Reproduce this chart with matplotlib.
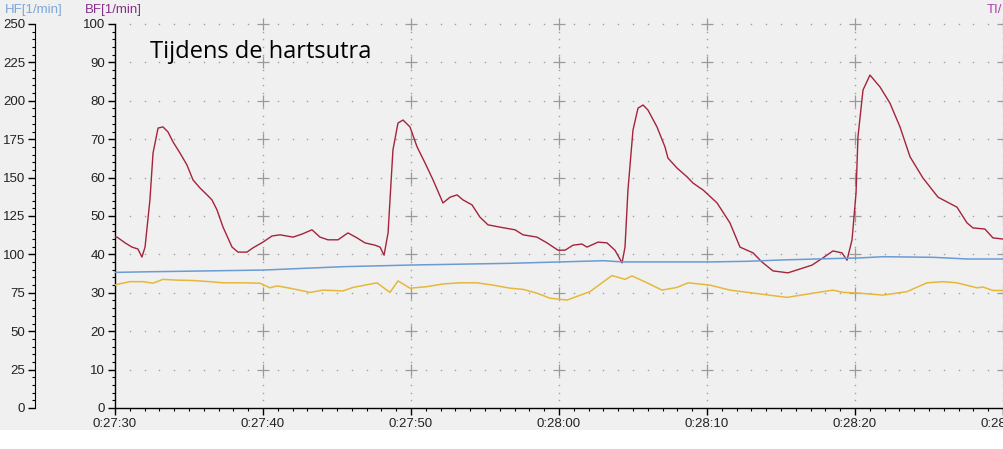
import matplotlib
matplotlib.use("Agg")
import matplotlib.pyplot as plt
from matplotlib.ticker import MultipleLocator, FuncFormatter
from matplotlib.patches import Rectangle
import numpy as np

# ---- data (seconds after 0:27:30) ----
red_t = [0, 0.14, 0.68, 1.15, 1.55, 1.82, 2.03, 2.36, 2.57, 2.91, 3.24, 3.58, 3.92, 4.39, 4.86,
         5.27, 5.74, 6.22, 6.55, 6.89, 7.30, 7.91, 8.31, 8.92, 9.32, 10.0, 10.61, 11.15, 12.03,
         12.64, 13.31, 13.85, 14.39, 15.07, 15.74, 16.35, 16.89, 17.57, 17.91, 18.18, 18.45,
         18.78, 19.12, 19.46, 19.80, 19.93, 20.41, 20.95, 21.49, 22.16, 22.64, 23.11, 23.51,
         24.12, 24.66, 25.20, 26.01, 27.03, 27.57, 28.51, 29.19, 29.93, 30.41, 30.95, 31.55,
         31.89, 32.64, 33.24, 33.78, 34.26, 34.46, 34.66, 35.0, 35.34, 35.68, 36.01, 36.62,
         37.16, 37.36, 37.97, 38.65, 39.05, 39.53, 39.73, 40.68, 41.55, 42.23, 43.11, 43.72,
         44.46, 45.47, 46.28, 47.09, 47.84, 48.51, 49.12, 49.46, 49.80, 50.07, 50.20, 50.54,
         51.01, 51.69, 52.36, 53.04, 53.72, 54.59, 55.61, 56.89, 57.57, 57.97, 58.78, 59.32, 60.0]
red_v = [44.5, 44.5, 43.0, 41.9, 41.4, 39.3, 41.9, 54.2, 66.4, 72.9, 73.2, 71.9, 69.3, 66.4, 63.3,
         59.4, 57.3, 55.5, 54.2, 51.6, 47.1, 41.9, 40.6, 40.6, 41.7, 43.2, 44.8, 45.1, 44.5,
         45.3, 46.4, 44.5, 43.8, 43.8, 45.6, 44.3, 43.0, 42.4, 41.9, 39.8, 45.6,
         67.2, 74.2, 75.0, 73.7, 73.2, 68.0, 63.8, 59.4, 53.4, 54.9, 55.5, 54.2,
         52.9, 49.7, 47.7, 47.1, 46.4, 45.1, 44.5, 43.0, 41.1, 41.1, 42.4, 42.7,
         41.9, 43.2, 43.0, 41.1, 37.8, 41.9, 56.8, 72.4, 78.1, 78.9, 77.6, 73.2,
         68.0, 65.1, 62.5, 60.2, 58.6, 57.3, 56.8, 53.4, 48.2, 41.9, 40.4, 38.0,
         35.7, 35.2, 36.2, 37.2, 39.1, 40.9, 40.4, 38.5, 43.8, 56.0, 70.6, 82.8,
         86.7, 83.6, 79.4, 73.2, 65.4, 59.9, 54.9, 52.3, 48.2, 46.9, 46.6, 44.3, 44.0]

blue_t = [0, 2.36, 10.0, 15.4, 20.1, 26.7, 30.1, 33.0, 34.3, 40.2, 42.7, 45.1, 48.1, 50.3,
          51.9, 55.3, 57.6, 60.0]
blue_hf = [88.3, 88.7, 89.8, 92.0, 93.1, 94.2, 95.1, 95.9, 95.1, 95.1, 95.5, 96.4, 97.2, 97.7,
           98.5, 98.1, 97.0, 97.0]

yel_t = [0, 0.14, 1.01, 1.89, 2.57, 3.24, 4.19, 5.27, 6.42, 7.30, 8.65, 9.80, 10.47, 10.95,
         11.82, 13.18, 14.05, 15.41, 16.08, 17.70, 18.58, 19.12, 19.93, 21.08, 22.16, 23.31,
         24.46, 25.54, 26.69, 27.57, 28.51, 29.39, 30.54, 32.09, 33.58, 34.46, 34.93, 35.95,
         36.96, 37.97, 38.72, 40.20, 41.55, 43.78, 45.41, 47.16, 48.51, 49.19, 50.34, 51.89,
         53.51, 54.86, 55.95, 56.89, 58.24, 58.65, 59.32, 60.0]
yel_v = [32.0, 32.2, 32.9, 32.9, 32.5, 33.5, 33.3, 33.2, 32.9, 32.6, 32.6, 32.5, 31.3, 31.8,
         31.2, 30.1, 30.7, 30.5, 31.4, 32.6, 30.1, 33.1, 31.2, 31.6, 32.3, 32.6,
         32.6, 32.0, 31.2, 30.9, 29.9, 28.6, 28.1, 30.3, 34.5, 33.5, 34.4, 32.6,
         30.7, 31.4, 32.6, 32.0, 30.7, 29.6, 28.8, 29.9, 30.7, 30.1, 29.9, 29.4,
         30.3, 32.6, 32.9, 32.6, 31.3, 31.5, 30.6, 30.6]

start_sec = 27 * 60 + 30
title_text = "Tijdens de hartsutra"

# ---- figure ----
W, H = 1004, 449
fig = plt.figure(figsize=(W / 100, H / 100), dpi=100, facecolor="white")
bg = "#f0f0f0"
fig.patches.append(Rectangle((0, (H - 430) / H), 1, 430 / H, transform=fig.transFigure,
                             facecolor=bg, edgecolor="none", zorder=-10))

ax = fig.add_axes([115 / W, (H - 408) / H, (1003 - 115) / W, (408 - 24) / H])
ax.set_facecolor(bg)
ax.set_xlim(0, 60)
ax.set_ylim(0, 100)

for s in ["top", "right"]:
    ax.spines[s].set_visible(False)
for s in ["left", "bottom"]:
    ax.spines[s].set_linewidth(1.0)
    ax.spines[s].set_color("black")

ax.xaxis.set_major_locator(MultipleLocator(10))
ax.xaxis.set_minor_locator(MultipleLocator(1))
ax.yaxis.set_major_locator(MultipleLocator(10))
ax.yaxis.set_minor_locator(MultipleLocator(2))


def fmt_time(x, pos):
    s = int(round(start_sec + x))
    return f"{s // 3600}:{(s % 3600) // 60:02d}:{s % 60:02d}"


ax.xaxis.set_major_formatter(FuncFormatter(fmt_time))
ax.tick_params(axis="both", which="major", length=5, width=1, color="black",
               labelsize=9.5, labelcolor="#222222", pad=2)
ax.tick_params(axis="both", which="minor", length=2.5, width=0.8, color="black")
for lab in ax.get_xticklabels() + ax.get_yticklabels():
    lab.set_family("Liberation Sans")

# grid: dotted lines with crosses at intersections
grid_col = "#a0a0a0"
secs = np.arange(1, 60)
for gy in range(10, 101, 10):
    xs = secs[secs % 10 != 0]
    ax.plot(xs, np.full(len(xs), gy), ls="none", marker="s", ms=1.0, mew=0,
            color=grid_col, zorder=1, clip_on=False)
for gx in range(10, 61, 10):
    ys = np.arange(2, 100, 2)
    ys = ys[ys % 10 != 0]
    ax.plot(np.full(len(ys), gx), ys, ls="none", marker="s", ms=1.0, mew=0,
            color=grid_col, zorder=1, clip_on=False)
    ax.plot(np.full(10, gx), np.arange(10, 101, 10), ls="none", marker="+", ms=8,
            mew=0.9, color="#9a9a9a", zorder=1, clip_on=False)

# series
ax.plot(yel_t, yel_v, color="#e6b83a", lw=1.1, zorder=3)
ax.plot(red_t, red_v, color="#a3243b", lw=1.0, zorder=4)

# HF axis
ax2 = ax.twinx()
ax2.set_ylim(0, 250)
ax2.patch.set_visible(False)
ax2.yaxis.set_ticks_position("left")
ax2.spines["left"].set_position(("outward", 80 * 0.72))
ax2.spines["left"].set_visible(True)
ax2.spines["left"].set_color("black")
for s in ["top", "right", "bottom"]:
    ax2.spines[s].set_visible(False)
ax2.yaxis.set_major_locator(MultipleLocator(25))
ax2.yaxis.set_minor_locator(MultipleLocator(5))
ax2.tick_params(axis="y", which="major", length=5, width=1, labelsize=9.5,
                labelcolor="#222222", pad=2)
ax2.tick_params(axis="y", which="minor", length=2.5, width=0.8)
for lab in ax2.get_yticklabels():
    lab.set_family("Liberation Sans")
ax2.plot(blue_t, blue_hf, color="#6a9bd4", lw=1.1, zorder=3)

# header labels
fig.text(5 / W, 1 - 10 / H, "HF[1/min]", color="#7aa6d8", fontsize=9.5,
         family="Liberation Sans", ha="left", va="center")
fig.text(85 / W, 1 - 10 / H, "BF[1/min]", color="#84308a", fontsize=9.5,
         family="Liberation Sans", ha="left", va="center")
fig.text(1002 / W, 1 - 10 / H, "TI/", color="#b040b0", fontsize=9.5,
         family="Liberation Sans", ha="right", va="center")

fig.text(150 / W, 1 - 52 / H, title_text, color="black", fontsize=17,
         family="Open Sans", ha="left", va="center")

fig.savefig("out.png", dpi=100, facecolor=fig.get_facecolor())
